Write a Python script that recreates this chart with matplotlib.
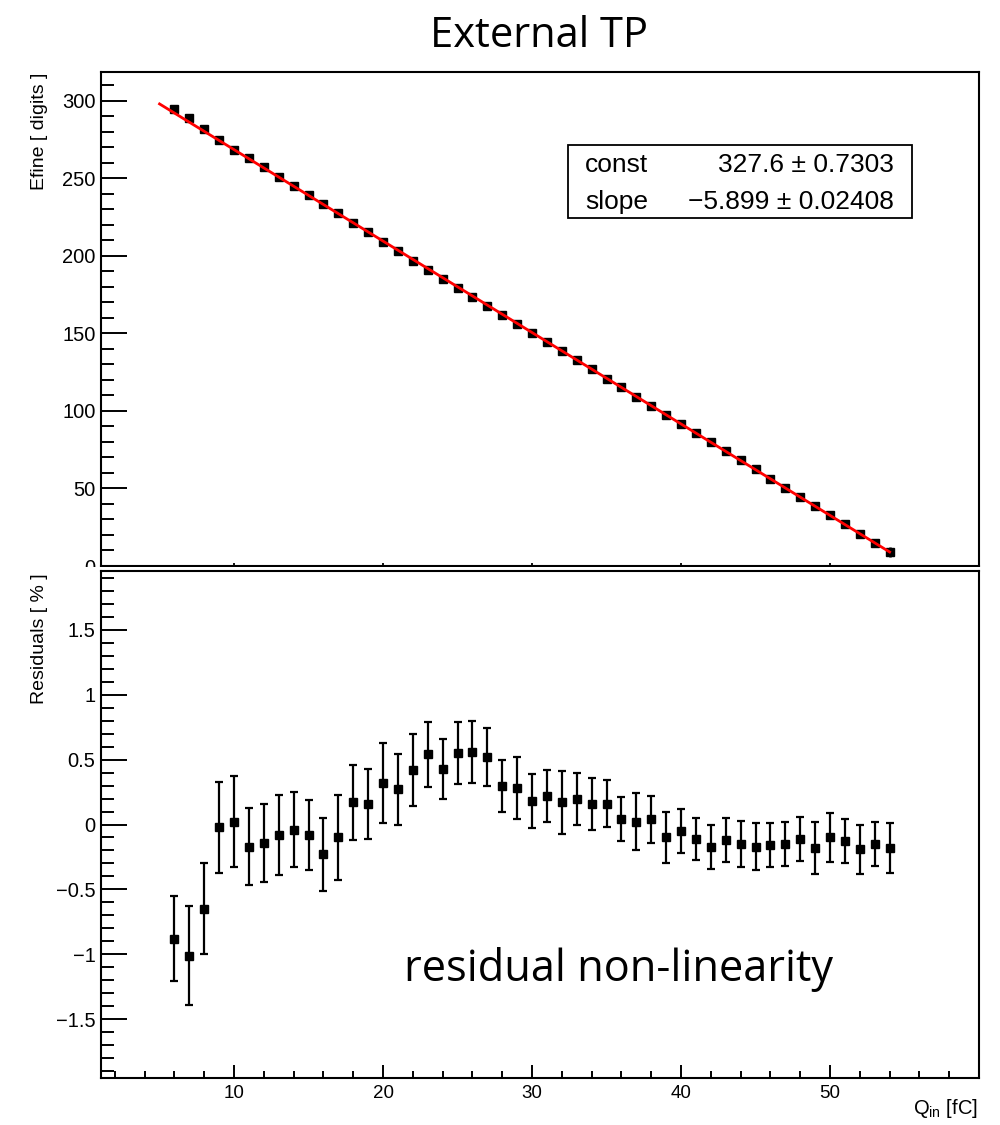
import matplotlib
matplotlib.use("Agg")
import matplotlib.pyplot as plt
from matplotlib.patches import Rectangle
from matplotlib.ticker import MultipleLocator, FixedLocator, FuncFormatter, NullLocator
import numpy as np

# ---------------- data ----------------
q_in = [6, 7, 8, 9, 10, 11, 12, 13, 14, 15, 16, 17, 18, 19, 20, 21, 22, 23, 24, 25,
        26, 27, 28, 29, 30, 31, 32, 33, 34, 35, 36, 37, 38, 39, 40, 41, 42, 43, 44, 45,
        46, 47, 48, 49, 50, 51, 52, 53, 54]

efine = [294.8, 289.2, 282.2, 274.6, 268.6, 263.2, 257.2, 251.1, 245.1, 239.3,
         233.8, 227.5, 221.0, 215.2, 209.0, 203.2, 197.0, 190.9, 185.2, 179.1,
         173.3, 167.5, 161.9, 156.1, 150.4, 144.4, 138.6, 132.7, 126.8, 120.9,
         115.2, 109.3, 103.4, 97.6, 91.7, 85.8, 80.0, 74.0, 68.1, 62.3,
         56.3, 50.4, 44.5, 38.6, 32.7, 26.8, 20.9, 15.0, 9.1]

efine_err = [0.6, 0.6, 0.6, 0.7, 0.7, 0.7, 0.7, 0.8, 0.8, 0.8,
             0.9, 0.9, 0.9, 1.0, 1.0, 1.0, 1.1, 1.1, 1.1, 1.2,
             1.2, 1.3, 1.3, 1.3, 1.4, 1.4, 1.4, 1.5, 1.5, 1.6,
             1.6, 1.7, 1.7, 1.8, 1.8, 1.9, 1.9, 2.0, 2.0, 2.1,
             2.1, 2.2, 2.2, 2.3, 2.3, 2.4, 2.5, 2.6, 3.0]

residual = [-0.88, -1.01, -0.65, -0.02, 0.02, -0.17, -0.14, -0.08, -0.04, -0.08,
            -0.23, -0.10, 0.17, 0.16, 0.32, 0.27, 0.42, 0.54, 0.43, 0.55,
            0.56, 0.52, 0.30, 0.28, 0.18, 0.22, 0.17, 0.20, 0.16, 0.16,
            0.04, 0.02, 0.04, -0.10, -0.05, -0.11, -0.17, -0.12, -0.15, -0.17,
            -0.16, -0.15, -0.11, -0.18, -0.10, -0.13, -0.19, -0.15, -0.18]

residual_err = [0.33, 0.38, 0.35, 0.35, 0.35, 0.30, 0.30, 0.31, 0.29, 0.27,
                0.28, 0.33, 0.29, 0.27, 0.31, 0.27, 0.28, 0.25, 0.23, 0.24,
                0.24, 0.22, 0.20, 0.24, 0.21, 0.20, 0.24, 0.20, 0.20, 0.18,
                0.17, 0.22, 0.18, 0.20, 0.17, 0.16, 0.17, 0.17, 0.18, 0.18,
                0.17, 0.17, 0.17, 0.20, 0.19, 0.17, 0.19, 0.17, 0.19]

fit_const = 327.6
fit_const_err = 0.7303
fit_slope = -5.899
fit_slope_err = 0.02408
fit_xmin, fit_xmax = 5.0, 54.0

x_ticks = [10, 20, 30, 40, 50]

title_text = "External TP"
note_text = "residual non-linearity"
top_ylabel = "Efine [ digits ]"
bot_ylabel = "Residuals [ % ]"
xlabel_text = r"Q$_{\mathregular{in}}$ [fC]"
legend_names = ["const", "slope"]
legend_values = ["327.6 \u00b1 0.7303", "\u22125.899 \u00b1 0.02408"]

# ---------------- style ----------------
plt.rcParams["font.family"] = ["Liberation Sans", "DejaVu Sans"]
plt.rcParams["mathtext.fontset"] = "custom"
plt.rcParams["mathtext.rm"] = "Liberation Sans"
plt.rcParams["mathtext.it"] = "Liberation Sans:italic"

W, H = 1000, 1125
fig = plt.figure(figsize=(W / 100, H / 100), dpi=100)

def fy(py):
    return 1 - py / H

L, R = 101, 979
ax1 = fig.add_axes([L / W, fy(566), (R - L) / W, (566 - 72) / H], zorder=1)
cover = Rectangle((0, 0), 1, fy(567), transform=fig.transFigure,
                  facecolor="white", edgecolor="none", zorder=2)
fig.add_artist(cover)
ax2 = fig.add_axes([L / W, fy(1078), (R - L) / W, (1078 - 571) / H], zorder=3)

XLIM = (1.07, 60.0)
lw_frame = 1.5

def fmt(v, pos):
    s = "%g" % round(v, 3)
    if s == "-0":
        s = "0"
    return s.replace("-", "\u2212")

for ax in (ax1, ax2):
    ax.set_xlim(*XLIM)
    for sp in ax.spines.values():
        sp.set_linewidth(lw_frame)
    ax.tick_params(axis="y", which="major", direction="in", length=19, width=1.4,
                   labelsize=14.5, pad=4, right=False)
    ax.tick_params(axis="y", which="minor", direction="in", length=9.5, width=1.4,
                   right=False)
    ax.yaxis.set_major_formatter(FuncFormatter(fmt))

# ---------------- top panel ----------------
ax1.set_ylim(0, 318.7)
ax1.yaxis.set_major_locator(MultipleLocator(50))
ax1.yaxis.set_minor_locator(MultipleLocator(10))
ax1.xaxis.set_major_locator(FixedLocator(x_ticks))
ax1.xaxis.set_minor_locator(NullLocator())
ax1.tick_params(axis="x", which="major", direction="in", length=2.5, width=1.3,
                labelbottom=False, top=False)

ax1.errorbar(q_in, efine, yerr=efine_err, fmt="s", color="black", ms=5.5,
             elinewidth=1.8, capsize=0, zorder=3)
xf = np.linspace(fit_xmin, fit_xmax, 200)
ax1.plot(xf, fit_const + fit_slope * xf, color="#ff0000", lw=2.0, zorder=4)

# stats box
box = Rectangle((568 / W, fy(218)), (912 - 568) / W, (218 - 145) / H,
                transform=fig.transFigure, facecolor="white", edgecolor="black",
                lw=1.3, zorder=10)
fig.add_artist(box)
rows_y = [172, 209]
for name, val, yb in zip(legend_names, legend_values, rows_y):
    fig.text(585 / W, fy(yb), name, ha="left", va="baseline", fontsize=19, zorder=11)
    fig.text(894 / W, fy(yb), val, ha="right", va="baseline", fontsize=19, zorder=11)

# ---------------- bottom panel ----------------
ax2.set_ylim(-1.954, 1.954)
ax2.yaxis.set_major_locator(MultipleLocator(0.5))
ax2.yaxis.set_minor_locator(MultipleLocator(0.1))
ax2.xaxis.set_major_locator(FixedLocator(x_ticks))
ax2.xaxis.set_minor_locator(MultipleLocator(2))
ax2.tick_params(axis="x", which="major", direction="in", length=9.5, width=1.4,
                labelsize=13.5, pad=5, top=False)
ax2.tick_params(axis="x", which="minor", direction="in", length=5, width=1.4, top=False)
ax2.xaxis.set_major_formatter(FuncFormatter(fmt))
for lab in ax2.get_xticklabels():
    lab.set_family(["Liberation Sans Narrow", "Liberation Sans", "DejaVu Sans"])

ax2.errorbar(q_in, residual, yerr=residual_err, fmt="s", color="black", ms=5.5,
             elinewidth=1.6, capsize=3, capthick=1.6, zorder=3)

# ---------------- texts ----------------
title = fig.text(539 / W, fy(47), title_text, ha="center", va="baseline",
                 fontsize=30, family=["Open Sans", "DejaVu Sans"])
note = fig.text(619 / W, fy(981), note_text, ha="center", va="baseline",
                fontsize=30, family=["Open Sans", "DejaVu Sans"])

fig.text(40 / W, fy(73), top_ylabel, rotation=90, ha="center", va="top", fontsize=14)
fig.text(40 / W, fy(573), bot_ylabel, rotation=90, ha="center", va="top", fontsize=14)
fig.text(978 / W, fy(1109), xlabel_text, ha="right", va="center", fontsize=14.5)

# size big texts to match measured widths
renderer = fig.canvas.get_renderer()
for t, target in ((title, 218), (note, 428)):
    w = t.get_window_extent(renderer).width
    t.set_fontsize(t.get_fontsize() * target / w)

fig.savefig("out.png", dpi=100)
